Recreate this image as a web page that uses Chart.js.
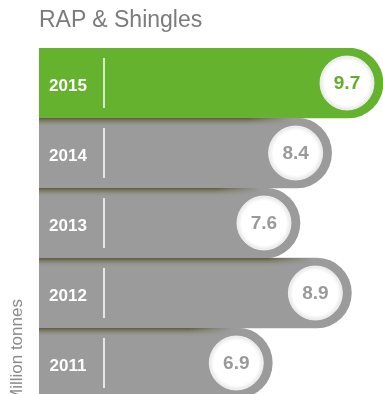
<!DOCTYPE html>
<html>
<head>
<meta charset="utf-8">
<script src="https://cdn.jsdelivr.net/npm/chart.js@4.4.1/dist/chart.umd.min.js"></script>
<style>
  html, body { margin: 0; padding: 0; background: #fff; overflow: hidden; }
  body { width: 383px; height: 394px; position: relative; font-family: "Liberation Sans", Arial, sans-serif; }
  #wrap { position: absolute; left: 0; top: 0; width: 383px; height: 400px; }
  #title { position: absolute; left: 39px; top: 8px; font-size: 23px; line-height: 23px; color: #7b7b7b; white-space: nowrap; }
  #unit { position: absolute; left: 8px; top: 403px; font-size: 17px; line-height: 17px; color: #8a8a8a;
          white-space: nowrap; transform-origin: 0 0; transform: rotate(-90deg); }
</style>
</head>
<body>
<div id="wrap"><canvas id="chart" width="383" height="400"></canvas></div>
<div id="title">RAP &amp; Shingles</div>
<div id="unit">Million tonnes</div>
<script>
const years = ["2015", "2014", "2013", "2012", "2011"];
const tonnes = [9.7, 8.4, 7.6, 8.9, 6.9];
const highlightYear = "2015";

const GREEN = "#65b22f";
const GREY = "#9b9b9b";

// dark olive shadow cast by the bar above onto the top of each bar below
const shadowPlugin = {
  id: "barShadow",
  afterDatasetsDraw(chart) {
    const ctx = chart.ctx;
    const bars = chart.getDatasetMeta(0).data;
    const left = chart.chartArea.left;
    bars.forEach((bar, i) => {
      if (i === 0) return;
      const top = bar.y - bar.height / 2;
      const fadeEnd = bar.x - 40;
      const fadeStart = fadeEnd - 45;
      const grad = ctx.createLinearGradient(0, top, 0, top + 9);
      grad.addColorStop(0, "rgba(82,80,40,0.85)");
      grad.addColorStop(0.45, "rgba(100,98,60,0.35)");
      grad.addColorStop(1, "rgba(155,155,155,0)");
      ctx.save();
      ctx.fillStyle = grad;
      for (let x = left; x < fadeEnd; x += 2) {
        ctx.globalAlpha = x < fadeStart ? 1 : 1 - (x - fadeStart) / (fadeEnd - fadeStart);
        ctx.fillRect(x, top, 2, 9);
      }
      ctx.restore();
    });
  }
};

// year label, divider line and value badge on each bar
const badgePlugin = {
  id: "badges",
  afterDatasetsDraw(chart) {
    const ctx = chart.ctx;
    const bars = chart.getDatasetMeta(0).data;
    const yScale = chart.scales.y;
    bars.forEach((bar, i) => {
      const cy = yScale.getPixelForValue(i);
      const half = bar.height / 2;
      const hot = years[i] === highlightYear;

      ctx.save();
      ctx.fillStyle = "#fff";
      ctx.font = "bold 17px 'Liberation Sans', Arial, sans-serif";
      ctx.textAlign = "center";
      ctx.textBaseline = "middle";
      ctx.fillText(years[i], 68, cy + 3);

      ctx.strokeStyle = "#fff";
      ctx.lineWidth = 1.5;
      ctx.beginPath();
      ctx.moveTo(104, cy - half + 10);
      ctx.lineTo(104, cy + half - 10);
      ctx.stroke();

      const cx = bar.x - 36;
      const r = 27;
      const rg = ctx.createRadialGradient(cx, cy, 0, cx, cy, r);
      rg.addColorStop(0, "#ffffff");
      rg.addColorStop(0.82, "#ffffff");
      rg.addColorStop(0.95, "#eeeeee");
      rg.addColorStop(1, "#e0e0e0");
      ctx.fillStyle = rg;
      ctx.beginPath();
      ctx.arc(cx, cy, r, 0, Math.PI * 2);
      ctx.fill();
      ctx.strokeStyle = "rgba(255,255,255,0.75)";
      ctx.lineWidth = 1;
      ctx.stroke();

      ctx.fillStyle = hot ? "#5fae2c" : "#9a9a9a";
      ctx.font = "bold 19px 'Liberation Sans', Arial, sans-serif";
      ctx.fillText(tonnes[i].toFixed(1), cx, cy + 1);
      ctx.restore();
    });
  }
};

new Chart(document.getElementById("chart"), {
  type: "bar",
  data: {
    labels: years,
    datasets: [{
      data: tonnes,
      backgroundColor: years.map(y => y === highlightYear ? GREEN : GREY),
      borderWidth: 0,
      borderSkipped: false,
      borderRadius: { topLeft: 0, bottomLeft: 0, topRight: 35, bottomRight: 35 },
      barPercentage: 1,
      categoryPercentage: 1
    }]
  },
  options: {
    indexAxis: "y",
    responsive: false,
    animation: false,
    layout: { padding: { top: 48, left: 39, right: 0, bottom: 2 } },
    plugins: { legend: { display: false }, tooltip: { enabled: false }, title: { display: false } },
    scales: {
      x: { display: false, min: 1, max: 9.7 },
      y: { display: false }
    }
  },
  plugins: [shadowPlugin, badgePlugin]
});
</script>
</body>
</html>
